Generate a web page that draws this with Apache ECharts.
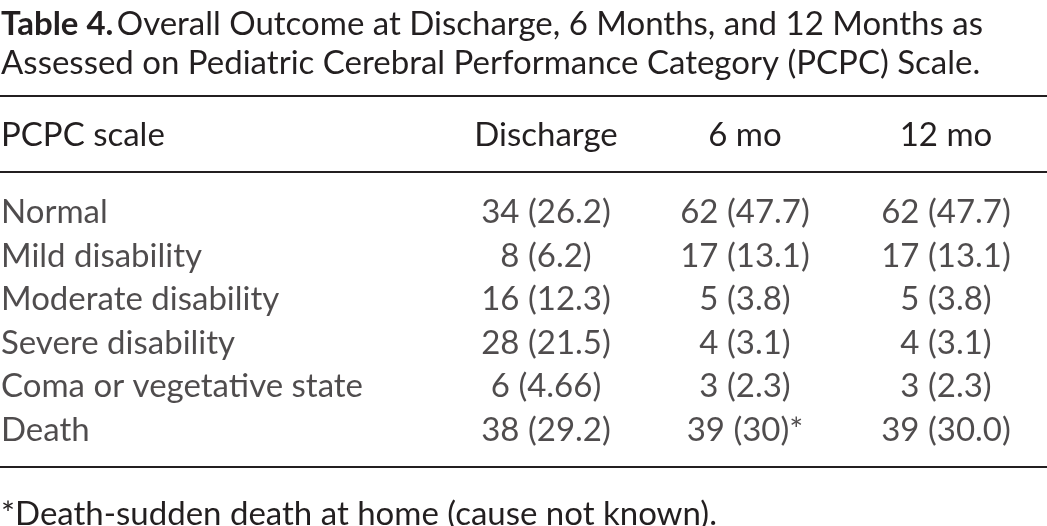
<!DOCTYPE html>
<html>
<head>
<meta charset="utf-8">
<script src="https://cdn.jsdelivr.net/npm/echarts@6/dist/echarts.min.js"></script>
<style>body{margin:0;background:#fff}#c{width:1047px;height:526px}</style>
</head>
<body>
<div id="c"></div>
<script>
var rows = ['Normal', 'Mild disability', 'Moderate disability', 'Severe disability', 'Coma or vegetative state', 'Death'];
var columns = ['Discharge', '6 mo', '12 mo'];
var discharge = ['34 (26.2)', '8 (6.2)', '16 (12.3)', '28 (21.5)', '6 (4.66)', '38 (29.2)'];
var sixMonths = ['62 (47.7)', '17 (13.1)', '5 (3.8)', '4 (3.1)', '3 (2.3)', '39 (30)*'];
var twelveMonths = ['62 (47.7)', '17 (13.1)', '5 (3.8)', '4 (3.1)', '3 (2.3)', '39 (30.0)'];

var FONT = 'Lato';
var SIZE = 33;
var colX = [546, 745, 946];   // column centres in px
var chart = echarts.init(document.getElementById('c'));

function colSeries(values, x, align) {
    return {
        type: 'scatter', symbolSize: 0, silent: true,
        data: values.map(function (v, i) { return { value: [x, rows[i]], text: v }; }),
        label: {
            show: true, position: 'inside', align: align,
            fontFamily: FONT, fontSize: SIZE, color: '#231f20',
            formatter: function (p) { return p.data.text; }
        }
    };
}

function txt(x, y, s, align) {
    return { type: 'text', x: x, y: y, style: { text: s, font: SIZE + 'px ' + FONT, fill: '#231f20', align: align || 'left', verticalAlign: 'middle' } };
}
function rule(y) {
    return { type: 'rect', left: 0, top: y, shape: { width: 1047, height: 2 }, style: { fill: '#231f20' } };
}

chart.setOption({
    animation: false,
    grid: { left: 0, right: 0, top: 191, height: 261 },
    xAxis: { type: 'value', min: 0, max: 1047, show: false },
    yAxis: { type: 'category', data: rows, inverse: true, show: false },
    graphic: [
        { type: 'text', x: 1, y: 24, style: { verticalAlign: 'middle', rich: { b: { fontWeight: 'bold', fontFamily: FONT, fontSize: SIZE }, n: { fontFamily: FONT, fontSize: SIZE } }, text: '{b|Table 4.} {n|Overall Outcome at Discharge, 6 Months, and 12 Months as}', fill: '#231f20' } },
        txt(1, 63, 'Assessed on Pediatric Cerebral Performance Category (PCPC) Scale.'),
        rule(95),
        txt(1, 135, 'PCPC scale'),
        txt(colX[0], 135, columns[0], 'center'),
        txt(colX[1], 135, columns[1], 'center'),
        txt(colX[2], 135, columns[2], 'center'),
        rule(171),
        rule(466),
        txt(1, 514, '*Death-sudden death at home (cause not known).')
    ],
    series: [
        {
            type: 'scatter', symbolSize: 0, silent: true,
            data: rows.map(function (r) { return { value: [1, r], text: r }; }),
            label: { show: true, position: 'right', distance: 0, fontFamily: FONT, fontSize: SIZE, color: '#231f20', formatter: function (p) { return p.data.text; } }
        },
        colSeries(discharge, colX[0], 'center'),
        colSeries(sixMonths, colX[1], 'center'),
        colSeries(twelveMonths, colX[2], 'center')
    ]
});
</script>
</body>
</html>
